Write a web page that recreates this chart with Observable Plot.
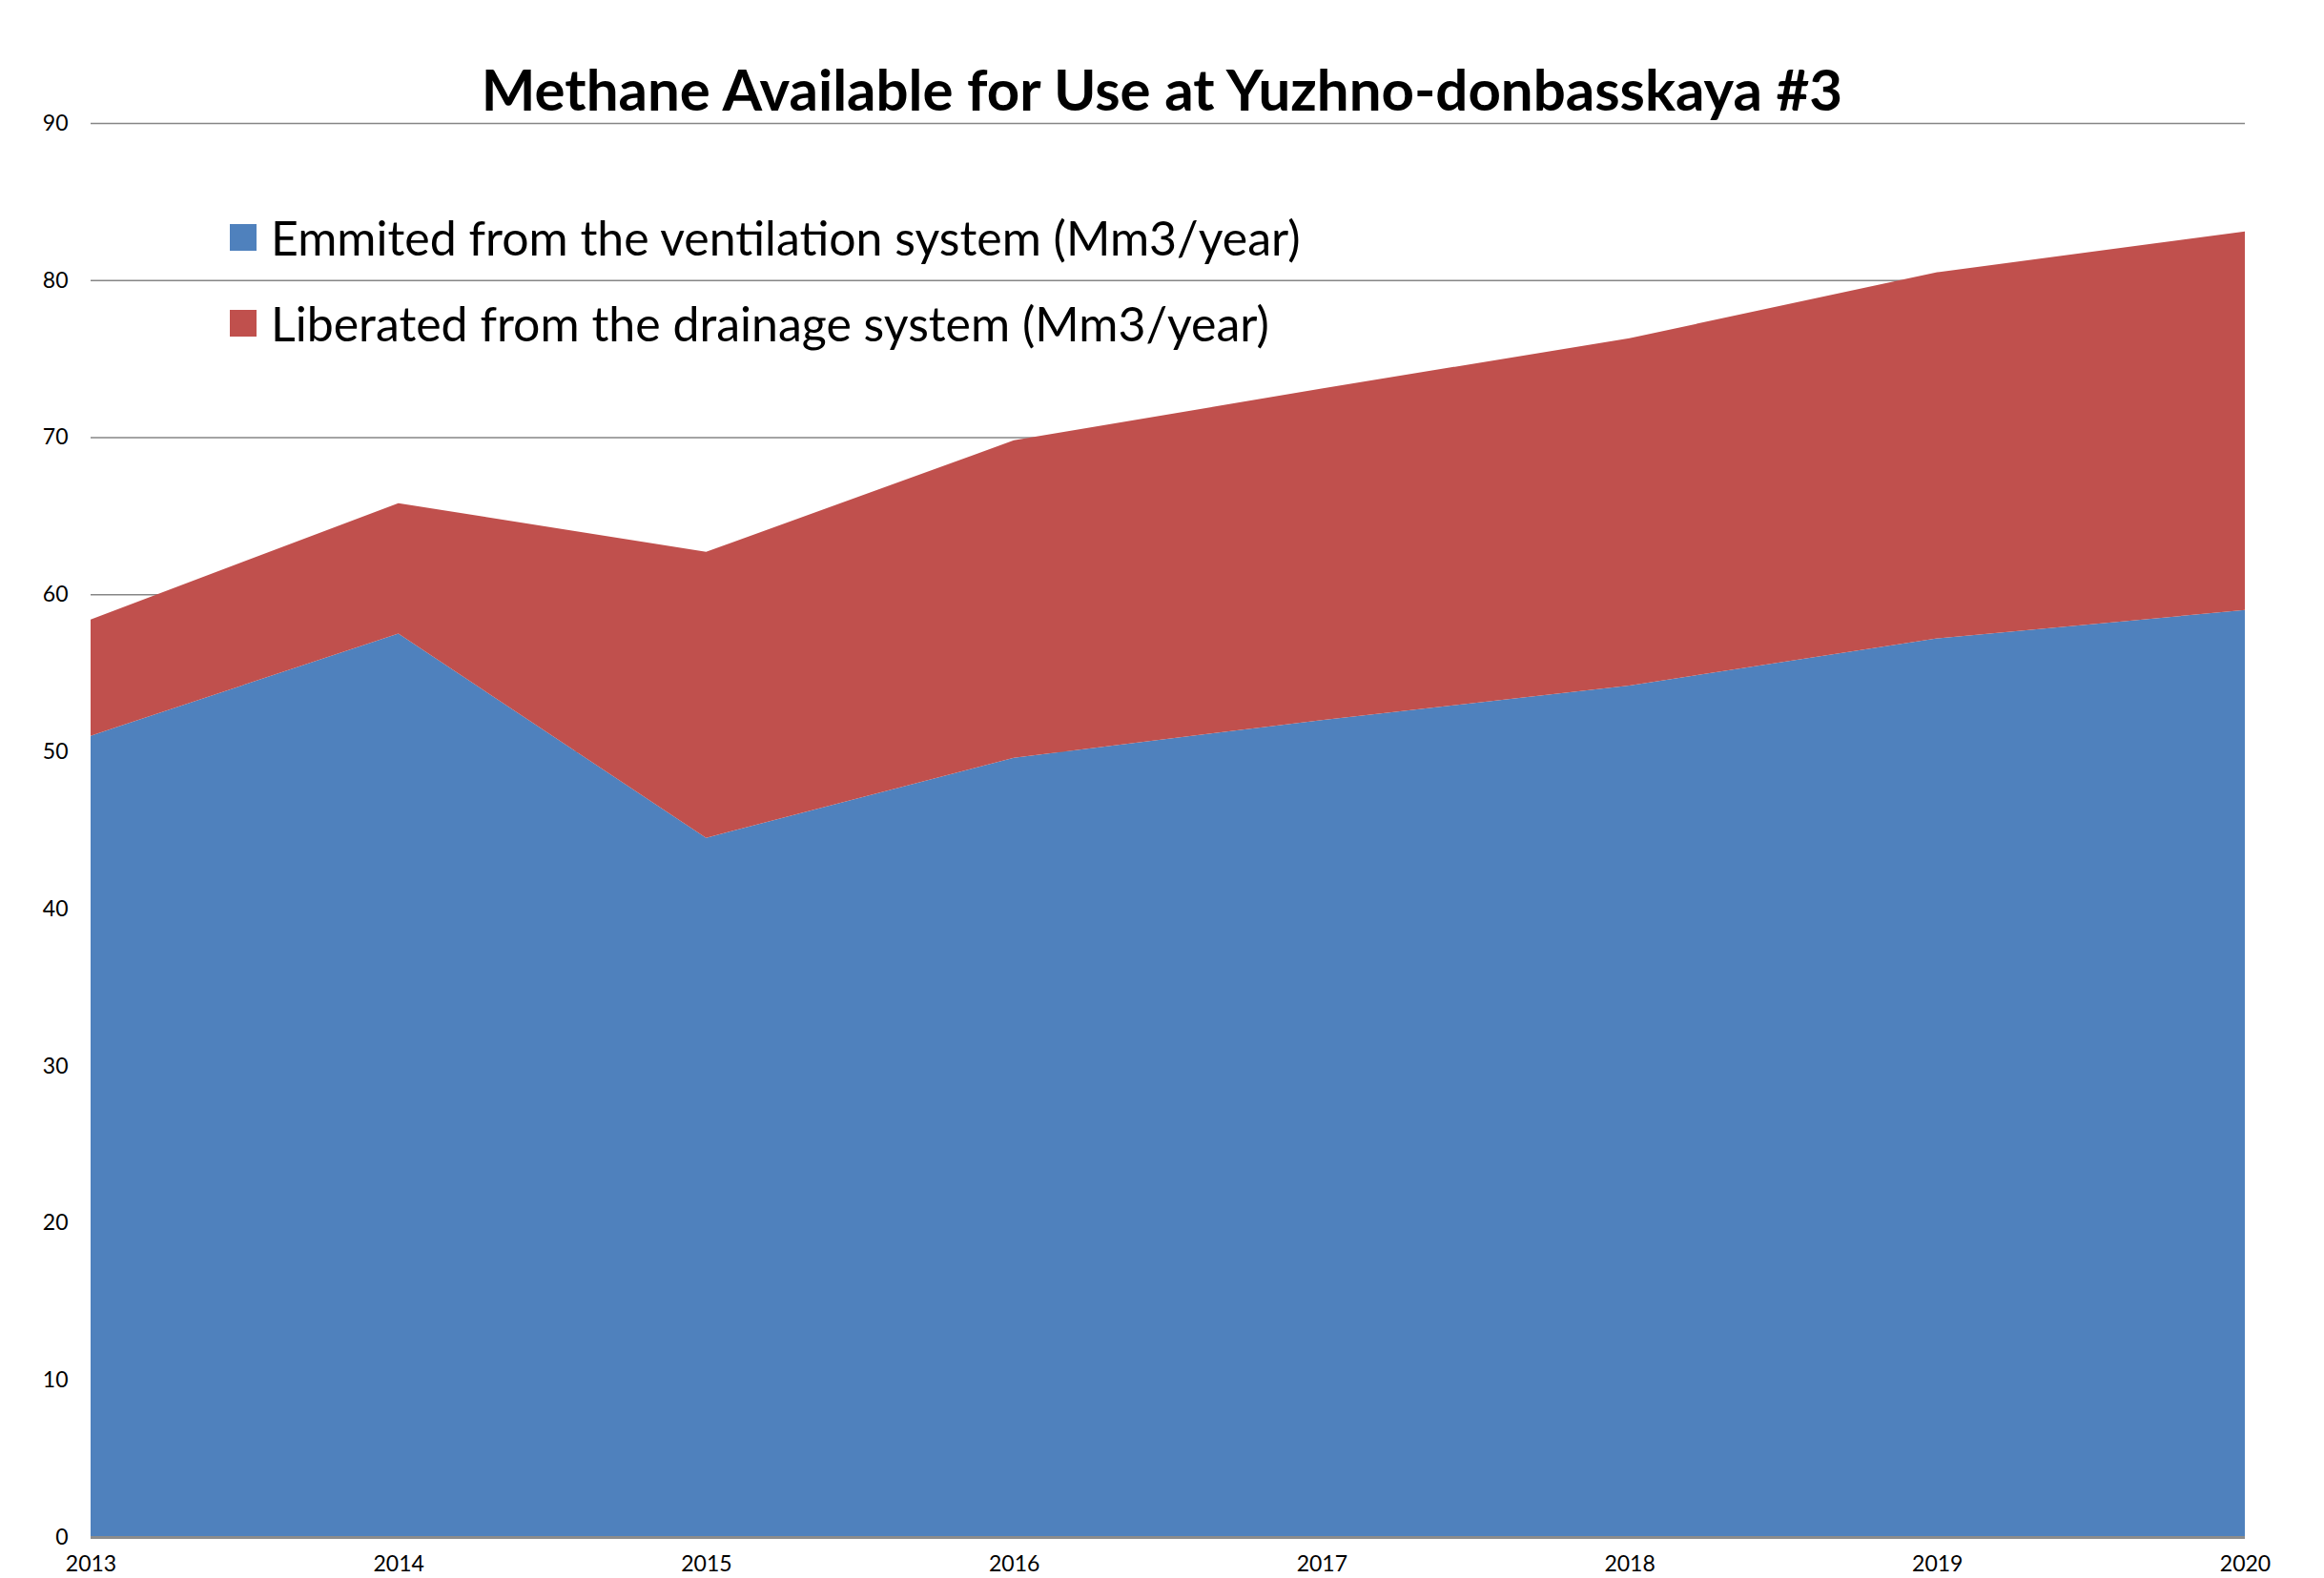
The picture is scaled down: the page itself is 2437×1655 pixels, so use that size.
<!DOCTYPE html>
<html>
<head>
<meta charset="utf-8">
<script src="https://cdn.jsdelivr.net/npm/d3@7"></script>
<script src="https://cdn.jsdelivr.net/npm/@observablehq/plot@0.6"></script>
<style>
  html, body { margin: 0; padding: 0; background: #fff; }
  #wrap { position: relative; width: 2437px; height: 1655px; font-family: Lato, "Open Sans", sans-serif; }
  #title { position: absolute; left: 0; width: 2437px; top: 93px; transform: translateY(-50%); text-align: center;
           font-weight: 700; font-size: 60px; line-height: 1; color: #000; }
  .leg { position: absolute; left: 241px; display: flex; align-items: center; transform: translateY(-50%); }
  .sw { width: 28px; height: 28px; margin-right: 15px; }
  .lt { font-size: 50px; line-height: 1; color: #000; }
</style>
</head>
<body>
<div id="wrap">
  <div id="chart"></div>
  <div id="title"></div>
  <div id="legend"></div>
</div>
<script>
const titleText = "Methane Available for Use at Yuzhno-donbasskaya #3";
const years = [2013, 2014, 2015, 2016, 2017, 2018, 2019, 2020];
const ventilation = [51.0, 57.5, 44.5, 49.6, 52.0, 54.2, 57.2, 59.0];
const drainage = [7.4, 8.3, 18.2, 20.2, 21.1, 22.1, 23.3, 24.1];
const seriesNames = [
  "Emmited from the ventilation system (Mm3/year)",
  "Liberated from the drainage system (Mm3/year)"
];
const seriesColors = ["#4F81BD", "#C0504D"];
const yTicks = [0, 10, 20, 30, 40, 50, 60, 70, 80, 90];

const table = [];
years.forEach((yr, i) => {
  table.push({year: yr, series: seriesNames[0], value: ventilation[i]});
  table.push({year: yr, series: seriesNames[1], value: drainage[i]});
});

const chart = Plot.plot({
  width: 2437,
  height: 1655,
  marginLeft: 95,
  marginRight: 83,
  marginTop: 129,
  marginBottom: 43,
  style: {fontFamily: "Lato, 'Open Sans', sans-serif", fontSize: "23px", color: "#000", background: "#fff"},
  x: {type: "linear", domain: [2013, 2020], ticks: years, tickFormat: d => String(d), tickSize: 0, tickPadding: 19, label: null},
  y: {domain: [0, 90], ticks: yTicks, tickSize: 0, tickPadding: 24, label: null},
  color: {domain: seriesNames, range: seriesColors},
  marks: [
    Plot.gridY(yTicks, {stroke: "#868686", strokeOpacity: 1, strokeWidth: 1.5}),
    Plot.areaY(table, {x: "year", y: "value", fill: "series", order: seriesNames}),
    Plot.ruleY([0], {stroke: "#8c8c8c", strokeWidth: 3})
  ]
});
document.getElementById("chart").appendChild(chart);

document.getElementById("title").textContent = titleText;
const legend = document.getElementById("legend");
const rowY = [249, 339];
seriesNames.forEach((name, i) => {
  const row = document.createElement("div");
  row.className = "leg";
  row.style.top = rowY[i] + "px";
  const sw = document.createElement("div");
  sw.className = "sw";
  sw.style.background = seriesColors[i];
  const lt = document.createElement("div");
  lt.className = "lt";
  lt.textContent = name;
  row.appendChild(sw);
  row.appendChild(lt);
  legend.appendChild(row);
});
</script>
</body>
</html>
